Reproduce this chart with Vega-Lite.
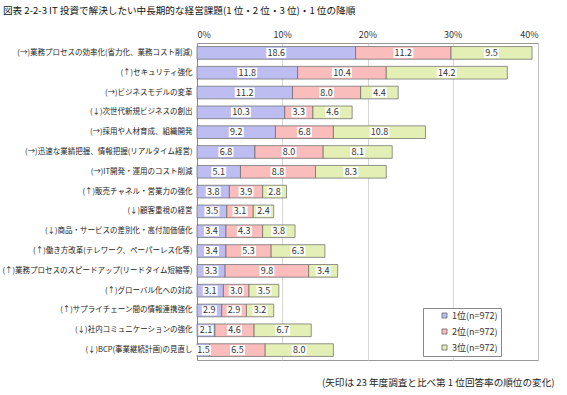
{
  "$schema": "https://vega.github.io/schema/vega-lite/v6.json",
  "width": 341,
  "height": 317,
  "autosize": "none",
  "padding": {"left": 197, "top": 43, "right": 29, "bottom": 35},
  "background": "white",
  "config": {
    "font": "Noto Sans CJK JP",
    "view": {"stroke": "#999", "strokeWidth": 1}
  },
  "title": {
    "text": "図表 2-2-3  IT 投資で解決したい中長期的な経営課題(1 位・2 位・3 位)・1 位の降順",
    "anchor": "start",
    "frame": "group",
    "dx": -194,
    "offset": 14,
    "fontSize": 9.6,
    "fontWeight": "normal",
    "color": "#111"
  },
  "data": {
    "values": [
      {"item": "(→)業務プロセスの効率化(省力化、業務コスト削減)", "rank": "1位(n=972)", "value": 18.6},
      {"item": "(→)業務プロセスの効率化(省力化、業務コスト削減)", "rank": "2位(n=972)", "value": 11.2},
      {"item": "(→)業務プロセスの効率化(省力化、業務コスト削減)", "rank": "3位(n=972)", "value": 9.5},
      {"item": "(↑)セキュリティ強化", "rank": "1位(n=972)", "value": 11.8},
      {"item": "(↑)セキュリティ強化", "rank": "2位(n=972)", "value": 10.4},
      {"item": "(↑)セキュリティ強化", "rank": "3位(n=972)", "value": 14.2},
      {"item": "(→)ビジネスモデルの変革", "rank": "1位(n=972)", "value": 11.2},
      {"item": "(→)ビジネスモデルの変革", "rank": "2位(n=972)", "value": 8.0},
      {"item": "(→)ビジネスモデルの変革", "rank": "3位(n=972)", "value": 4.4},
      {"item": "(↓)次世代新規ビジネスの創出", "rank": "1位(n=972)", "value": 10.3},
      {"item": "(↓)次世代新規ビジネスの創出", "rank": "2位(n=972)", "value": 3.3},
      {"item": "(↓)次世代新規ビジネスの創出", "rank": "3位(n=972)", "value": 4.6},
      {"item": "(→)採用や人材育成、組織開発", "rank": "1位(n=972)", "value": 9.2},
      {"item": "(→)採用や人材育成、組織開発", "rank": "2位(n=972)", "value": 6.8},
      {"item": "(→)採用や人材育成、組織開発", "rank": "3位(n=972)", "value": 10.8},
      {"item": "(→)迅速な業績把握、情報把握(リアルタイム経営)", "rank": "1位(n=972)", "value": 6.8},
      {"item": "(→)迅速な業績把握、情報把握(リアルタイム経営)", "rank": "2位(n=972)", "value": 8.0},
      {"item": "(→)迅速な業績把握、情報把握(リアルタイム経営)", "rank": "3位(n=972)", "value": 8.1},
      {"item": "(→)IT開発・運用のコスト削減", "rank": "1位(n=972)", "value": 5.1},
      {"item": "(→)IT開発・運用のコスト削減", "rank": "2位(n=972)", "value": 8.8},
      {"item": "(→)IT開発・運用のコスト削減", "rank": "3位(n=972)", "value": 8.3},
      {"item": "(↑)販売チャネル・営業力の強化", "rank": "1位(n=972)", "value": 3.8},
      {"item": "(↑)販売チャネル・営業力の強化", "rank": "2位(n=972)", "value": 3.9},
      {"item": "(↑)販売チャネル・営業力の強化", "rank": "3位(n=972)", "value": 2.8},
      {"item": "(↓)顧客重視の経営", "rank": "1位(n=972)", "value": 3.5},
      {"item": "(↓)顧客重視の経営", "rank": "2位(n=972)", "value": 3.1},
      {"item": "(↓)顧客重視の経営", "rank": "3位(n=972)", "value": 2.4},
      {"item": "(↓)商品・サービスの差別化・高付加価値化", "rank": "1位(n=972)", "value": 3.4},
      {"item": "(↓)商品・サービスの差別化・高付加価値化", "rank": "2位(n=972)", "value": 4.3},
      {"item": "(↓)商品・サービスの差別化・高付加価値化", "rank": "3位(n=972)", "value": 3.8},
      {"item": "(↑)働き方改革(テレワーク、ペーパーレス化等)", "rank": "1位(n=972)", "value": 3.4},
      {"item": "(↑)働き方改革(テレワーク、ペーパーレス化等)", "rank": "2位(n=972)", "value": 5.3},
      {"item": "(↑)働き方改革(テレワーク、ペーパーレス化等)", "rank": "3位(n=972)", "value": 6.3},
      {"item": "(↑)業務プロセスのスピードアップ(リードタイム短縮等)", "rank": "1位(n=972)", "value": 3.3},
      {"item": "(↑)業務プロセスのスピードアップ(リードタイム短縮等)", "rank": "2位(n=972)", "value": 9.8},
      {"item": "(↑)業務プロセスのスピードアップ(リードタイム短縮等)", "rank": "3位(n=972)", "value": 3.4},
      {"item": "(↑)グローバル化への対応", "rank": "1位(n=972)", "value": 3.1},
      {"item": "(↑)グローバル化への対応", "rank": "2位(n=972)", "value": 3.0},
      {"item": "(↑)グローバル化への対応", "rank": "3位(n=972)", "value": 3.5},
      {"item": "(↑)サプライチェーン間の情報連携強化", "rank": "1位(n=972)", "value": 2.9},
      {"item": "(↑)サプライチェーン間の情報連携強化", "rank": "2位(n=972)", "value": 2.9},
      {"item": "(↑)サプライチェーン間の情報連携強化", "rank": "3位(n=972)", "value": 3.2},
      {"item": "(↓)社内コミュニケーションの強化", "rank": "1位(n=972)", "value": 2.1},
      {"item": "(↓)社内コミュニケーションの強化", "rank": "2位(n=972)", "value": 4.6},
      {"item": "(↓)社内コミュニケーションの強化", "rank": "3位(n=972)", "value": 6.7},
      {"item": "(↓)BCP(事業継続計画)の見直し", "rank": "1位(n=972)", "value": 1.5},
      {"item": "(↓)BCP(事業継続計画)の見直し", "rank": "2位(n=972)", "value": 6.5},
      {"item": "(↓)BCP(事業継続計画)の見直し", "rank": "3位(n=972)", "value": 8.0}
    ]
  },
  "transform": [
    {"stack": "value", "groupby": ["item"], "sort": [{"field": "rank"}], "as": ["v0", "v1"]},
    {"calculate": "(datum.v0 + datum.v1) / 2", "as": "mid"}
  ],
  "encoding": {
    "y": {
      "field": "item",
      "type": "nominal",
      "sort": null,
      "scale": {"paddingInner": 0.36, "paddingOuter": 0.18},
      "axis": {
        "title": null,
        "ticks": false,
        "domainColor": "#888",
        "labelFontSize": 7.5,
        "labelColor": "#222",
        "labelPadding": 5,
        "labelLimit": 250
      }
    }
  },
  "layer": [
    {
      "mark": {"type": "bar", "stroke": "#666", "strokeWidth": 0.7},
      "encoding": {
        "x": {
          "field": "v0",
          "type": "quantitative",
          "scale": {"domain": [0, 40], "nice": false},
          "axis": {
            "orient": "top",
            "title": null,
            "values": [0, 10, 20, 30, 40],
            "labelExpr": "datum.value + '%'",
            "labelFontSize": 9,
            "labelColor": "#333",
            "labelPadding": 4,
            "ticks": false,
            "domain": false,
            "grid": true,
            "gridColor": "#ccc",
            "gridWidth": 0.8
          }
        },
        "x2": {"field": "v1"},
        "color": {
          "field": "rank",
          "type": "nominal",
          "scale": {
            "domain": ["1位(n=972)", "2位(n=972)", "3位(n=972)"],
            "range": ["#bdbdf2", "#fbbcbc", "#e4efb6"]
          },
          "legend": {
            "orient": "none",
            "legendX": 226,
            "legendY": 265,
            "title": null,
            "strokeColor": "#888",
            "fillColor": "white",
            "padding": 3,
            "symbolType": "square",
            "symbolSize": 25,
            "symbolOffset": 14,
            "symbolStrokeColor": "#555",
            "symbolStrokeWidth": 0.7,
            "labelFontSize": 9,
            "labelColor": "#333",
            "labelOffset": 3,
            "rowPadding": 6
          }
        }
      }
    },
    {
      "mark": {"type": "point", "filled": true, "color": "white", "opacity": 1, "size": 400, "strokeWidth": 0},
      "encoding": {
        "x": {
          "field": "mid",
          "type": "quantitative",
          "axis": {
            "orient": "bottom",
            "title": "(矢印は 23 年度調査と比べ第 1 位回答率の順位の変化)",
            "titleFontSize": 9.6,
            "titleFontWeight": "normal",
            "titleColor": "#222",
            "titleAnchor": "end",
            "titleAlign": "right",
            "titleBaseline": "middle",
            "titleX": 357,
            "titleY": 22,
            "labels": false,
            "ticks": false,
            "domain": false,
            "grid": false
          }
        },
        "shape": {
          "condition": {"test": "datum.value >= 10", "value": "M-1,-0.5H1V0.5H-1Z"},
          "value": "M-0.75,-0.5H0.75V0.5H-0.75Z"
        }
      }
    },
    {
      "mark": {"type": "text", "fontSize": 9, "color": "#333"},
      "encoding": {
        "x": {"field": "mid", "type": "quantitative", "axis": null},
        "text": {"field": "value", "type": "quantitative", "format": ".1f"}
      }
    }
  ],
  "resolve": {"axis": {"x": "independent"}}
}
